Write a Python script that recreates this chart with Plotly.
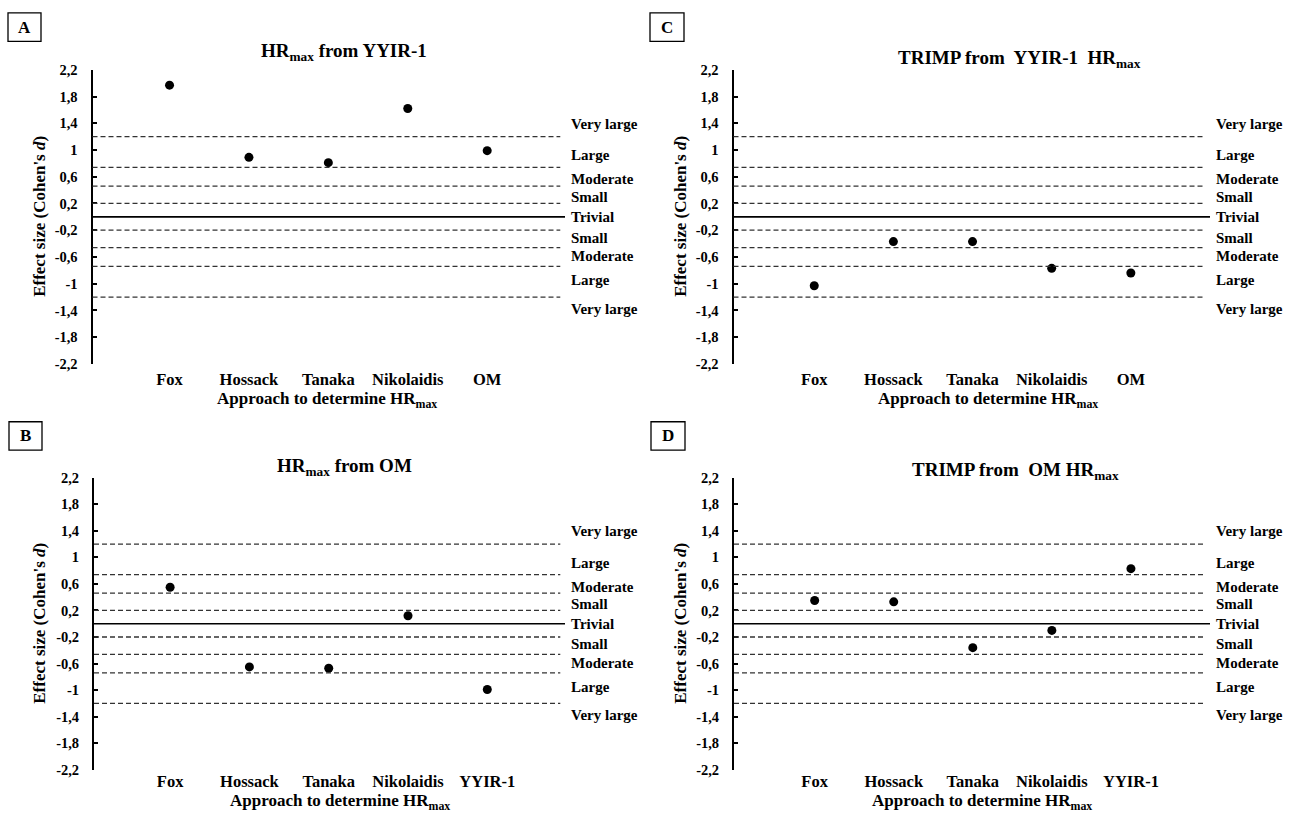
import plotly.graph_objects as go

W, H = 1292, 820

cats_AC = ["Fox", "Hossack", "Tanaka", "Nikolaidis", "OM"]
cats_BD = ["Fox", "Hossack", "Tanaka", "Nikolaidis", "YYIR-1"]

values_A = [1.97, 0.89, 0.81, 1.62, 0.99]
values_B = [0.55, -0.65, -0.67, 0.12, -0.99]
values_C = [-1.03, -0.37, -0.37, -0.77, -0.84]
values_D = [0.35, 0.33, -0.36, -0.10, 0.83]

thresholds = [1.2, 0.74, 0.46, 0.2, -0.2, -0.46, -0.74, -1.2]
zone_labels = ["Very large", "Large", "Moderate", "Small", "Trivial",
               "Small", "Moderate", "Large", "Very large"]
zone_label_y = [1.39, 0.92, 0.56, 0.29, 0.0, -0.31, -0.59, -0.95, -1.38]

tick_vals = [2.2, 1.8, 1.4, 1.0, 0.6, 0.2, -0.2, -0.6, -1.0, -1.4, -1.8, -2.2]
tick_text = ["2,2", "1,8", "1,4", "1", "0,6", "0,2", "-0,2", "-0,6", "-1", "-1,4", "-1,8", "-2,2"]

titles = {
    "A": "HR<sub>max</sub> from YYIR-1",
    "B": "HR<sub>max</sub> from OM",
    "C": "TRIMP from  YYIR-1  HR<sub>max</sub>",
    "D": "TRIMP from  OM HR<sub>max</sub>",
}

FONT = "Liberation Serif"

# panel geometry in pixels: left, right, top, bottom
panels = {
    "A": dict(l=92.5, r=565, t=63, b=363, cats=cats_AC, vals=values_A, xr=[-0.97, 4.98],
              title_xy=(344, 45), box=(8, 5, 41, 34), cat_off=4, xt_xy=(327, 400), yt_x=40),
    "C": dict(l=733.5, r=1210, t=63, b=363, cats=cats_AC, vals=values_C, xr=[-1.02, 5.0],
              title_xy=(1019, 52), box=(650, 5, 684, 34), cat_off=4, xt_xy=(988, 400), yt_x=681),
    "B": dict(l=94, r=565, t=479, b=777, cats=cats_BD, vals=values_B, xr=[-0.96, 4.98],
              title_xy=(344, 468), box=(9, 422, 42, 451), cat_off=0, xt_xy=(340, 810), yt_x=40),
    "D": dict(l=734, r=1210, t=479, b=777, cats=cats_BD, vals=values_D, xr=[-1.02, 5.0],
              title_xy=(1015, 472), box=(651, 422, 685, 451), cat_off=0, xt_xy=(982, 810), yt_x=681),
}

def px(x):
    return x / W

def py(y):
    return 1 - y / H

fig = go.Figure()
annotations = []
shapes = []

for i, (key, p) in enumerate(panels.items()):
    n = i + 1
    xa = "xaxis" if n == 1 else f"xaxis{n}"
    ya = "yaxis" if n == 1 else f"yaxis{n}"
    xref = "x" if n == 1 else f"x{n}"
    yref = "y" if n == 1 else f"y{n}"

    fig.add_trace(go.Scatter(
        x=list(range(len(p["cats"]))), y=p["vals"], mode="markers",
        marker=dict(color="black", size=9), xaxis=xref, yaxis=yref,
        showlegend=False, hoverinfo="skip"))

    fig.layout[xa] = dict(
        domain=[px(p["l"]), px(p["r"])], range=p["xr"], anchor=yref,
        tickvals=list(range(len(p["cats"]))), ticktext=p["cats"],
        showgrid=False, zeroline=False, showline=False, ticks="",
        ticklabelstandoff=p["cat_off"],
        tickfont=dict(family=FONT, size=16.5, color="black", weight="bold"),
        fixedrange=True)
    fig.layout[ya] = dict(
        domain=[py(p["b"]), py(p["t"])], range=[-2.2, 2.2], anchor=xref,
        tickvals=tick_vals, ticktext=tick_text,
        showgrid=False, zeroline=False, showline=True, linecolor="black",
        linewidth=2, ticks="inside", ticklen=4, tickwidth=1.5, tickcolor="black",
        ticklabelstandoff=10,
        tickfont=dict(family=FONT, size=14.5, color="black", weight="bold"),
        fixedrange=True)

    for t in thresholds:
        shapes.append(dict(type="line", xref=f"{xref} domain", yref=yref,
                           x0=0, x1=0.99, y0=t, y1=t,
                           line=dict(color="#333", width=1.3, dash="5px,3px")))
    shapes.append(dict(type="line", xref=f"{xref} domain", yref=yref,
                       x0=0, x1=1, y0=0, y1=0, line=dict(color="black", width=1.6)))

    for lab, ly in zip(zone_labels, zone_label_y):
        annotations.append(dict(text=lab, xref=f"{xref} domain", yref=yref,
                                x=1.0, y=ly, xanchor="left", yanchor="middle",
                                xshift=4, showarrow=False,
                                font=dict(family=FONT, size=15, color="black", weight="bold")))

    tx, ty = p["title_xy"]
    annotations.append(dict(text=titles[key], xref="paper", yref="paper",
                            x=px(tx), y=py(ty), xanchor="center", yanchor="middle",
                            showarrow=False,
                            font=dict(family=FONT, size=19, color="black", weight="bold")))
    xtx, xty = p["xt_xy"]
    annotations.append(dict(text="Approach to determine HR<sub>max</sub>", xref="paper", yref="paper",
                            x=px(xtx), y=py(xty),
                            xanchor="center", yanchor="middle", showarrow=False,
                            font=dict(family=FONT, size=17, color="black", weight="bold")))
    annotations.append(dict(text="Effect size (Cohen's <i>d</i>)", xref="paper", yref="paper",
                            x=px(p["yt_x"]), y=py((p["t"] + p["b"]) / 2),
                            xanchor="center", yanchor="middle", showarrow=False, textangle=-90,
                            font=dict(family=FONT, size=17, color="black", weight="bold")))
    bx0, by0, bx1, by1 = p["box"]
    shapes.append(dict(type="rect", xref="paper", yref="paper",
                       x0=px(bx0), x1=px(bx1), y0=py(by1), y1=py(by0),
                       line=dict(color="black", width=1.3), fillcolor="white"))
    annotations.append(dict(text=key, xref="paper", yref="paper",
                            x=px((bx0 + bx1) / 2), y=py((by0 + by1) / 2),
                            xanchor="center", yanchor="middle", showarrow=False,
                            font=dict(family=FONT, size=17, color="black", weight="bold")))

fig.update_layout(
    width=W, height=H, margin=dict(l=0, r=0, t=0, b=0),
    paper_bgcolor="white", plot_bgcolor="white",
    shapes=shapes, annotations=annotations, showlegend=False,
)

fig.write_html("out.html", config={"displayModeBar": False},
               post_script="document.body.style.margin='0';document.body.style.overflow='hidden';")
